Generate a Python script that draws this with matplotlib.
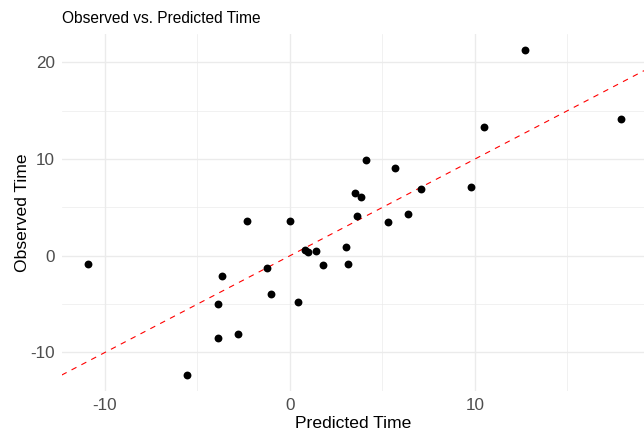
import matplotlib
matplotlib.use("Agg")
import matplotlib.pyplot as plt
import numpy as np

# values
predicted = [-10.94, -2.31, 0.0, -1.24, -3.66, -1.04, -3.89, 0.41, -3.89, -2.83,
             -5.59, 0.81, 0.99, 1.42, 1.78, 3.04, 3.15, 12.72, 17.89, 10.49,
             4.11, 5.69, 3.53, 3.86, 7.08, 9.77, 3.60, 6.38, 5.30]
observed = [-0.89, 3.62, 3.62, -1.24, -2.13, -3.96, -4.99, -4.79, -8.51, -8.07,
            -12.30, 0.59, 0.35, 0.49, -1.00, 0.93, -0.86, 21.27, 14.10, 13.34,
            9.90, 9.07, 6.52, 6.03, 6.93, 7.14, 4.10, 4.28, 3.45]

x_ticks = [-10, 0, 10]
y_ticks = [-10, 0, 10, 20]

plt.rcParams['font.family'] = ['Liberation Sans', 'DejaVu Sans']
plt.rcParams['axes.unicode_minus'] = False

fig = plt.figure(figsize=(6.44, 4.32), dpi=100)
ax = fig.add_axes([0.0958, 0.0949, 0.9042, 0.8263])

# grid like theme_minimal
ax.set_xticks(x_ticks)
ax.set_yticks(y_ticks)
ax.set_xticks([-5, 5, 15], minor=True)
ax.set_yticks([-5, 5, 15], minor=True)
ax.grid(which='major', color='#EBEBEB', linewidth=1.0)
ax.grid(which='minor', color='#EBEBEB', linewidth=0.5)
ax.set_axisbelow(True)
for s in ax.spines.values():
    s.set_visible(False)
ax.tick_params(which='both', length=0)
ax.tick_params(axis='both', labelsize=12.3, labelcolor='#4D4D4D')
ax.tick_params(axis='y', pad=5)
ax.tick_params(axis='x', pad=5)

ax.axline((0, 0), slope=1, color='red', linewidth=0.8, linestyle=(0, (5, 5)))
ax.scatter(predicted, observed, s=32, color='black', zorder=3, linewidths=0)

ax.set_xlim(-12.34, 19.14)
ax.set_ylim(-13.99, 22.93)

ax.set_xlabel('Predicted Time', fontsize=12.6, labelpad=2)
ax.set_ylabel('Observed Time', fontsize=12.6, labelpad=0)
ax.set_title('Observed vs. Predicted Time', fontsize=11.2, loc='left', pad=8)

fig.savefig('out.png', dpi=100)
